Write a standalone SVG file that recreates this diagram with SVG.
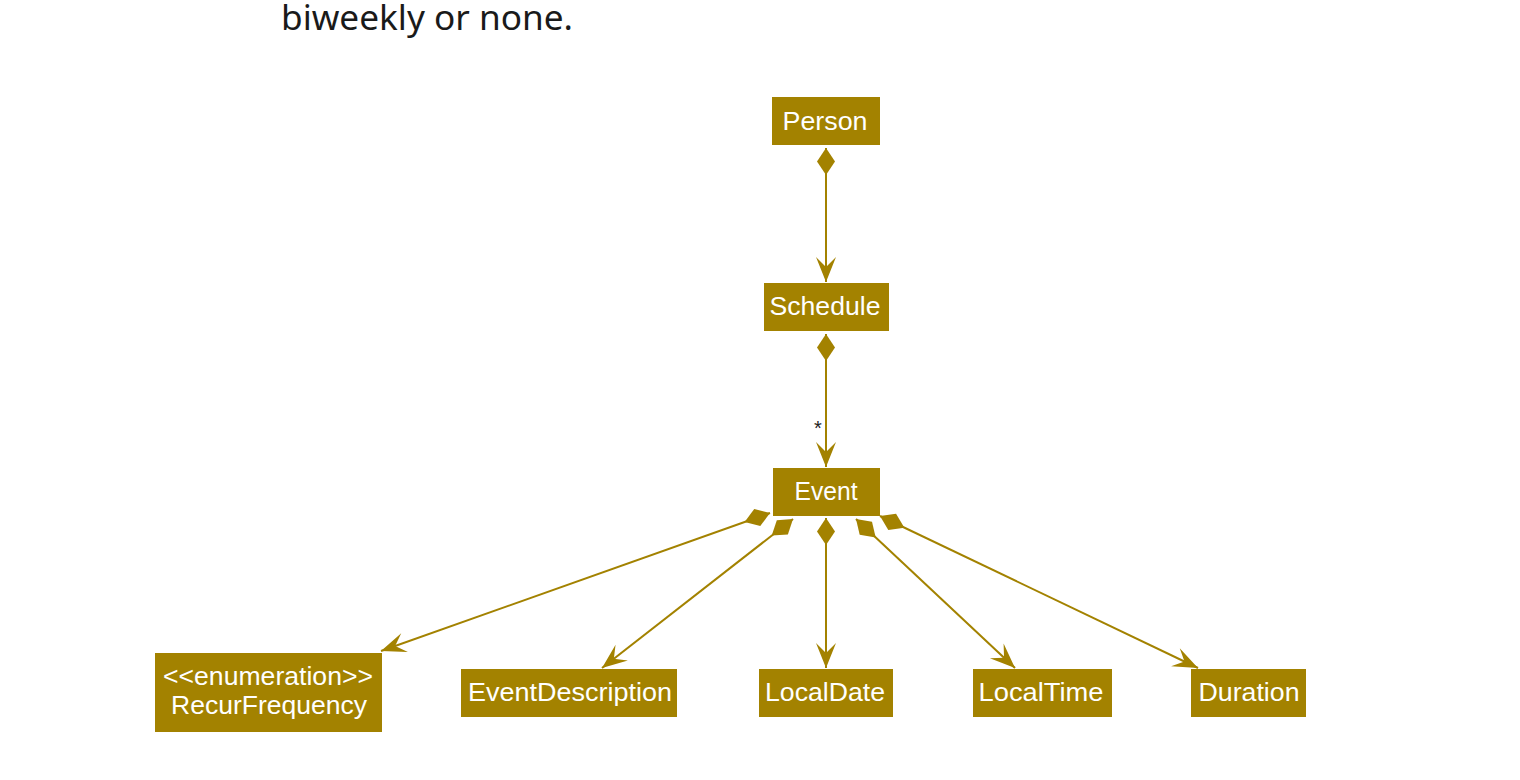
<svg xmlns="http://www.w3.org/2000/svg" width="1520" height="780" viewBox="0 0 1520 780">
<style>
.box{fill:#A38200;}
.lbl{fill:#ffffff;font-family:"Liberation Sans",Arial,sans-serif;font-size:25px;text-anchor:middle;}
.conn{stroke:#A38200;stroke-width:2;fill:none;marker-start:url(#dia);marker-end:url(#arr);}
</style>
<defs>
<marker id="dia" markerUnits="userSpaceOnUse" viewBox="0 0 28 20" markerWidth="28" markerHeight="20" refX="0" refY="10" orient="auto" overflow="visible">
<path d="M0,10 L13.5,1 L27,10 L13.5,19 Z" fill="#A38200"/>
</marker>
<marker id="arr" markerUnits="userSpaceOnUse" viewBox="0 0 26 22" markerWidth="26" markerHeight="22" refX="25" refY="11" orient="auto" overflow="visible">
<path d="M25,11 L0,1 L10,11 L0,21 Z" fill="#A38200"/>
</marker>
</defs>
<rect width="1520" height="780" fill="#ffffff"/>
<text x="281" y="30" font-family="'Noto Sans','Open Sans',sans-serif" font-size="34" fill="#1a1a1a" textLength="292" lengthAdjust="spacingAndGlyphs">biweekly or none.</text>

<g id="connectors">
<path class="conn" d="M826,148 L826,282"/>
<path class="conn" d="M826,334 L826,467"/>
<path class="conn" d="M770,513 L381,651"/>
<path class="conn" d="M793,519 L602,668"/>
<path class="conn" d="M826,518 L826,668"/>
<path class="conn" d="M856,519 L1015,668"/>
<path class="conn" d="M880,516 L1198,668"/>
<text x="818" y="435" font-family="'Liberation Sans',Arial,sans-serif" font-size="20" fill="#222222" text-anchor="middle">*</text>
</g>

<g id="Person">
<rect class="box" x="772" y="97" width="108" height="48"/>
<text class="lbl" x="825" y="130" textLength="85" lengthAdjust="spacingAndGlyphs">Person</text>
</g>
<g id="Schedule">
<rect class="box" x="764" y="283" width="125" height="48"/>
<text class="lbl" x="825" y="315" textLength="111" lengthAdjust="spacingAndGlyphs">Schedule</text>
</g>
<g id="Event">
<rect class="box" x="773" y="468" width="107" height="48"/>
<text class="lbl" x="826" y="500" textLength="63" lengthAdjust="spacingAndGlyphs">Event</text>
</g>
<g id="RecurFrequency">
<rect class="box" x="155" y="653" width="227" height="79"/>
<text class="lbl" x="268" y="685" textLength="210" lengthAdjust="spacingAndGlyphs">&lt;&lt;enumeration&gt;&gt;</text>
<text class="lbl" x="269" y="714" textLength="196" lengthAdjust="spacingAndGlyphs">RecurFrequency</text>
</g>
<g id="EventDescription">
<rect class="box" x="461" y="669" width="216" height="48"/>
<text class="lbl" x="570" y="701" textLength="204" lengthAdjust="spacingAndGlyphs">EventDescription</text>
</g>
<g id="LocalDate">
<rect class="box" x="759" y="669" width="134" height="48"/>
<text class="lbl" x="825" y="701" textLength="120" lengthAdjust="spacingAndGlyphs">LocalDate</text>
</g>
<g id="LocalTime">
<rect class="box" x="973" y="669" width="139" height="48"/>
<text class="lbl" x="1041" y="701" textLength="125" lengthAdjust="spacingAndGlyphs">LocalTime</text>
</g>
<g id="Duration">
<rect class="box" x="1191" y="669" width="115" height="48"/>
<text class="lbl" x="1249" y="701" textLength="101" lengthAdjust="spacingAndGlyphs">Duration</text>
</g>
</svg>
